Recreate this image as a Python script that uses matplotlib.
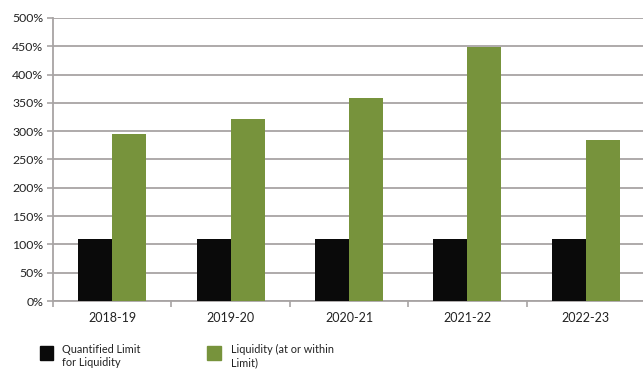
import matplotlib.pyplot as plt
import matplotlib.patches as mpatches
import numpy as np

plt.rcParams['font.family'] = ['Lato', 'DejaVu Sans']

years = ['2018-19', '2019-20', '2020-21', '2021-22', '2022-23']
limit = [110, 110, 110, 110, 110]
liquidity = [295, 322, 359, 449, 285]
yticks = [0, 50, 100, 150, 200, 250, 300, 350, 400, 450, 500]

black = '#0a0a0a'
green = '#77933c'
grid = '#a8a4a4'

fig = plt.figure(figsize=(6.43, 3.74), dpi=100)
ax = fig.add_axes([53 / 643, 73 / 374, 592 / 643, 283 / 374])

x = np.arange(len(years))
w = 0.288
ax.bar(x - w / 2, limit, width=w, color=black, zorder=3)
ax.bar(x + w / 2, liquidity, width=w, color=green, zorder=3)

ax.set_xlim(-0.5, len(years) - 0.5)
ax.set_ylim(0, 500)
ax.set_yticks(yticks)
ax.set_yticklabels([f'{v}%' for v in yticks], fontsize=8.8, color='#222222')
ax.yaxis.grid(True, color=grid, linewidth=1.3, zorder=0)

ax.set_xticks(x)
ax.set_xticklabels(years, fontsize=9, color='#222222')
ax.set_xticks(np.arange(len(years) + 1) - 0.5, minor=True)
ax.tick_params(axis='x', which='major', length=0, pad=8)
ax.tick_params(axis='x', which='minor', length=4, color=grid, width=1.2)
ax.tick_params(axis='y', length=4, color=grid, width=1.2, pad=3)

for s in ['top', 'right']:
    ax.spines[s].set_visible(False)
for s in ['left', 'bottom']:
    ax.spines[s].set_color(grid)
    ax.spines[s].set_linewidth(1.3)

# legend drawn below the axes
fig.patches.append(mpatches.Rectangle((40 / 643, 1 - 360 / 374), 13 / 643, 14 / 374,
                                      transform=fig.transFigure, color=black))
fig.text(62 / 643, 1 - 344 / 374, 'Quantified Limit\nfor Liquidity', fontsize=7.8,
         va='top', ha='left', color='#222222', linespacing=1.2)
fig.patches.append(mpatches.Rectangle((207 / 643, 1 - 360 / 374), 14 / 643, 14 / 374,
                                      transform=fig.transFigure, color=green))
fig.text(231 / 643, 1 - 344 / 374, 'Liquidity (at or within\nLimit)', fontsize=7.8,
         va='top', ha='left', color='#222222', linespacing=1.2)

fig.savefig('out.png', dpi=100)
